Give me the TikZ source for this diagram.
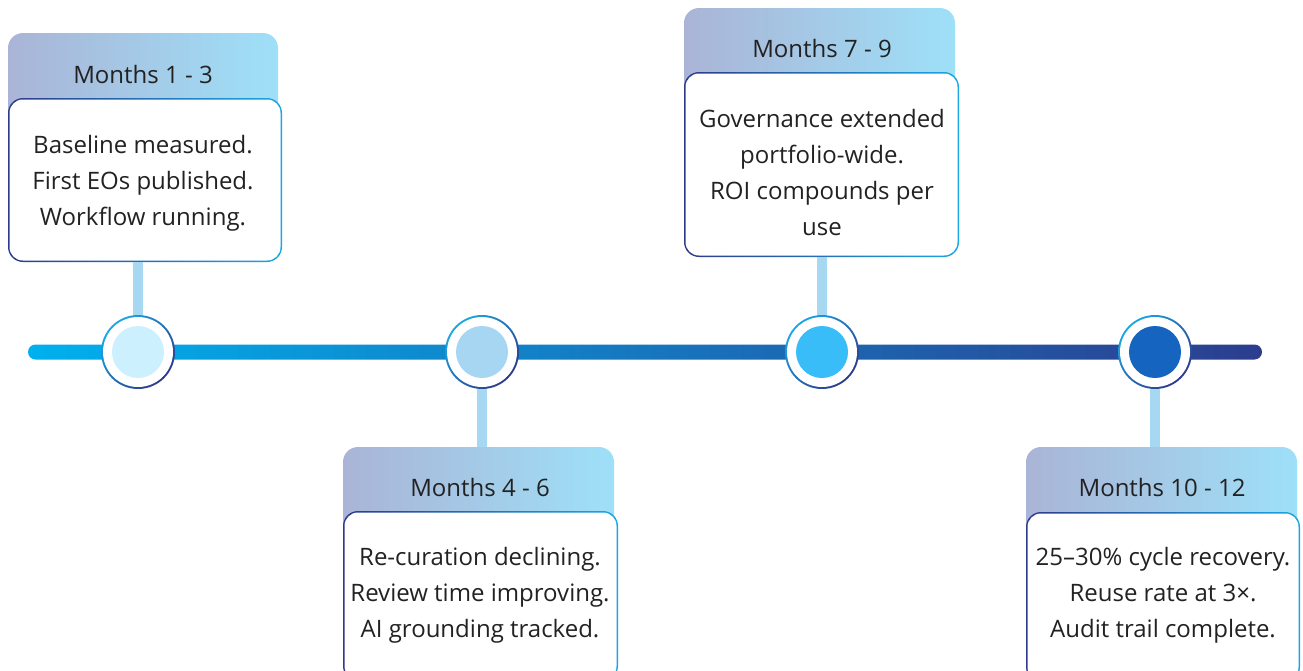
\documentclass[tikz,border=0pt]{standalone}
\usepackage{fontspec}
\setmainfont{Open Sans}
\definecolor{hdrL}{HTML}{AAB4D6}
\definecolor{hdrR}{HTML}{9EE0F8}
\definecolor{brdL}{HTML}{2E3A8C}
\definecolor{brdR}{HTML}{1AA7E2}
\definecolor{barL}{HTML}{00B0EE}
\definecolor{barR}{HTML}{2C3D8E}
\definecolor{stem}{HTML}{A7D8F1}
\definecolor{dotA}{HTML}{CCF0FD}
\definecolor{dotB}{HTML}{A6D6F2}
\definecolor{dotC}{HTML}{38BDF8}
\definecolor{dotD}{HTML}{1565C0}
\definecolor{ink}{HTML}{222222}
\begin{document}
\begin{tikzpicture}[x=1pt,y=-1pt,
  hdr/.style={left color=hdrL, right color=hdrR},
  frame/.style={rounded corners=15pt, left color=brdL, right color=brdR, inner sep=0pt},
  ring/.style={circle, minimum size=74pt, inner sep=0pt, top color=brdR, bottom color=brdL, shading angle=45},
  stemline/.style={draw=stem, line width=10pt},
  hdrtext/.style={text=ink, font=\fontsize{24}{28}\selectfont},
  bodytext/.style={text=ink, align=center, font=\fontsize{24}{36}\selectfont},
]
\useasboundingbox (0,0) rectangle (1303,670);
\clip (0,0) rectangle (1303,670);

% timeline bar
\shade[left color=barL, right color=barR, rounded corners=7.5pt] (28,344.5) rectangle (1262,359.5);

% top edges of the lower header tabs, where the stems end
\coordinate (top2) at (482,447);
\coordinate (top4) at (1155,447);

% header tabs (top corners rounded only)
\shade[hdr] (8,140) [rounded corners=15pt] -- (8,33) -- (278,33) [sharp corners] -- (278,140) -- cycle;
\shade[hdr] (343,560) [rounded corners=15pt] -- (343,447) -- (614,447) [sharp corners] -- (614,560) -- cycle;
\shade[hdr] (684,120) [rounded corners=15pt] -- (684,8) -- (955,8) [sharp corners] -- (955,120) -- cycle;
\shade[hdr] (1026,560) [rounded corners=15pt] -- (1026,447) -- (1297,447) [sharp corners] -- (1297,560) -- cycle;

% body frames
\node[frame, minimum width=274pt, minimum height=164pt] (b1) at (145,180) {};
\node[frame, minimum width=275pt, minimum height=170pt] (b2) at (480.5,596) {};
\node[frame, minimum width=275pt, minimum height=185pt] (b3) at (821.5,164.5) {};
\node[frame, minimum width=274pt, minimum height=170pt] (b4) at (1163,597) {};
\foreach \b in {b1,b2,b3,b4}
  \fill[white, rounded corners=13.5pt] ([shift={(1.7pt,-1.7pt)}]\b.north west) rectangle ([shift={(-1.7pt,1.7pt)}]\b.south east);

% header labels
\node[hdrtext] (h1) at (143,74) {Months 1 - 3};
\node[hdrtext] (h2) at (480,487) {Months 4 - 6};
\node[hdrtext] (h3) at (822,48) {Months 7 - 9};
\node[hdrtext] (h4) at (1162,487) {Months 10 - 12};

% body texts
\node[bodytext] (t1) at (143,183) {Baseline measured.\\First EOs published.\\Workflow running.};
\node[bodytext] (t2) at (480,595) {Re-curation declining.\\Review time improving.\\AI grounding tracked.};
\node[bodytext] (t3) at (822,172) {Governance extended\\portfolio-wide.\\ROI compounds per\\use};
\node[bodytext] (t4) at (1163,595) {25–30\% cycle recovery.\\Reuse rate at 3×.\\Audit trail complete.};

% milestone markers
\node[ring] (c1) at (138,352) {};
\node[ring] (c2) at (482,352) {};
\node[ring] (c3) at (822,352) {};
\node[ring] (c4) at (1155,352) {};
\foreach \c/\col in {c1/dotA,c2/dotB,c3/dotC,c4/dotD}{
  \fill[white] (\c) circle (35pt);
  \fill[\col] (\c) circle (26pt);
}

% stems from markers to boxes
\draw[stemline] (c1.north) -- (c1.north |- b1.south);
\draw[stemline] (c2.south) -- (top2);
\draw[stemline] (c3.north) -- (c3.north |- b3.south);
\draw[stemline] (c4.south) -- (top4);
\end{tikzpicture}
\end{document}
